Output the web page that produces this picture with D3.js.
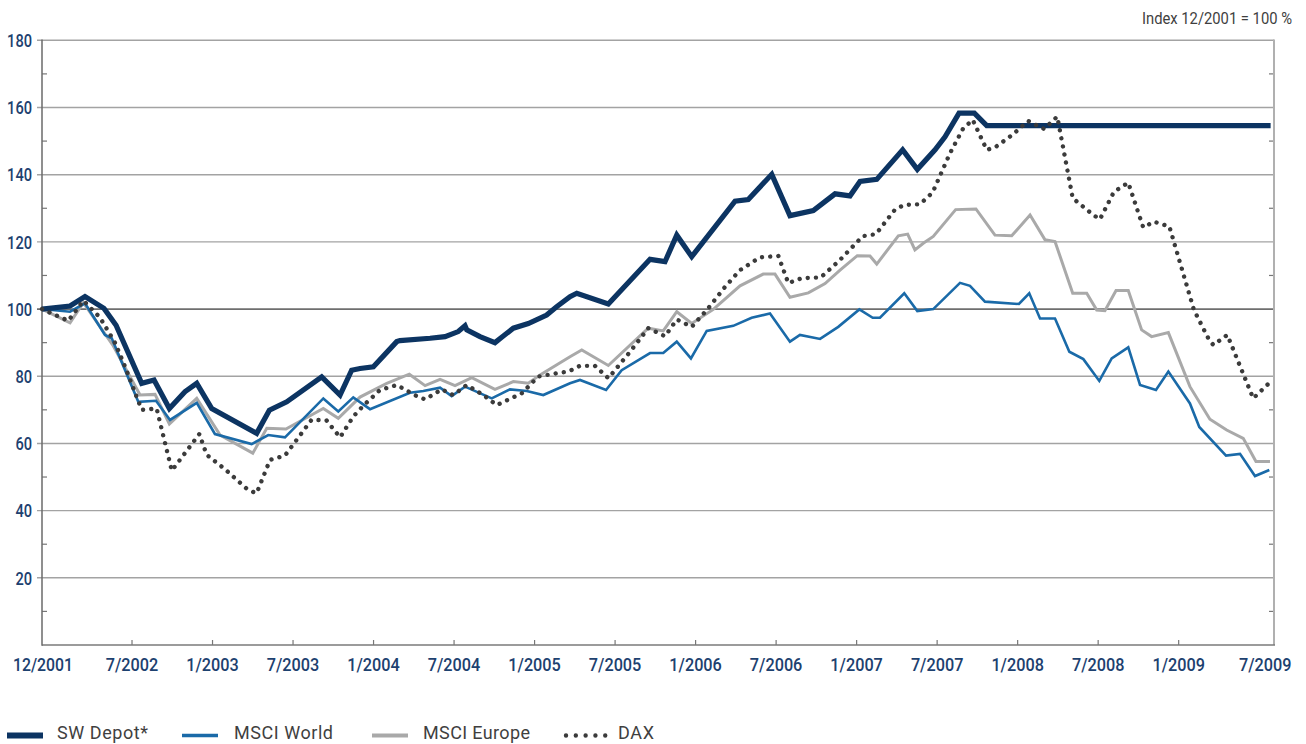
<!DOCTYPE html>
<html>
<head>
<meta charset="utf-8">
<script src="https://cdn.jsdelivr.net/npm/d3@7"></script>
<style>
  html, body { margin: 0; padding: 0; background: #fff; }
  svg { display: block; }
</style>
</head>
<body>
<script>
// ---------------- DATA (x = decimal year, y = index value) ----------------
const seriesNames = ["SW Depot*", "MSCI World", "MSCI Europe", "DAX"];

const swDepot = [
  [2001.941,100],[2002.115,100.9],[2002.208,103.7],[2002.326,100.2],[2002.401,95.2],
  [2002.560,77.9],[2002.637,78.9],[2002.732,70.4],[2002.829,75.4],[2002.902,77.9],
  [2002.995,70.4],[2003.274,63.0],[2003.353,69.9],[2003.461,72.4],[2003.678,79.8],
  [2003.792,74.4],[2003.864,81.8],[2003.916,82.3],[2003.999,82.8],[2004.144,90.3],
  [2004.164,90.6],[2004.351,91.3],[2004.444,91.8],[2004.526,93.3],[2004.568,95.0],
  [2004.579,93.8],[2004.661,91.8],[2004.754,90.0],[2004.796,91.6],[2004.868,94.3],
  [2004.961,95.7],[2005.075,98.2],[2005.137,100.7],[2005.220,103.7],[2005.262,104.7],
  [2005.458,101.5],[2005.717,114.8],[2005.810,114.1],[2005.883,122.0],[2005.976,115.6],
  [2006.245,132.1],[2006.327,132.6],[2006.473,140.1],[2006.586,127.8],[2006.731,129.3],
  [2006.866,134.3],[2006.959,133.7],[2007.021,138.0],[2007.125,138.6],[2007.286,147.4],
  [2007.377,141.6],[2007.487,147.4],[2007.549,151.3],[2007.636,158.3],[2007.731,158.3],
  [2007.808,154.6],[2009.571,154.6]
];

const msciWorld = [
  [2001.941,100],[2002.115,99.2],[2002.208,101.7],[2002.332,92.3],[2002.374,91.3],
  [2002.539,72.4],[2002.649,72.7],[2002.736,67.0],[2002.902,72.1],[2003.015,62.8],
  [2003.243,59.8],[2003.346,62.5],[2003.450,61.8],[2003.688,73.4],[2003.781,69.5],
  [2003.874,73.7],[2003.978,70.2],[2004.226,75.1],[2004.309,75.6],[2004.413,76.6],
  [2004.485,74.1],[2004.568,76.9],[2004.734,73.4],[2004.847,76.1],[2004.951,75.6],
  [2005.054,74.4],[2005.220,77.9],[2005.282,78.9],[2005.444,75.9],[2005.541,81.8],
  [2005.717,86.9],[2005.799,86.9],[2005.883,90.3],[2005.971,85.3],[2006.069,93.5],
  [2006.234,95.0],[2006.348,97.4],[2006.462,98.7],[2006.586,90.3],[2006.648,92.3],
  [2006.773,91.1],[2006.886,94.7],[2007.017,99.9],[2007.100,97.4],[2007.145,97.4],
  [2007.296,104.7],[2007.377,99.4],[2007.476,100.0],[2007.642,107.8],[2007.704,106.9],
  [2007.797,102.2],[2008.008,101.5],[2008.072,104.7],[2008.139,97.2],[2008.232,97.2],
  [2008.321,87.3],[2008.408,85.1],[2008.507,78.6],[2008.584,85.3],[2008.687,88.6],
  [2008.760,77.4],[2008.859,75.9],[2008.936,81.4],[2009.070,71.9],[2009.128,64.9],
  [2009.294,56.4],[2009.381,56.9],[2009.474,50.3],[2009.563,52.1]
];

const msciEurope = [
  [2001.941,100],[2002.115,95.9],[2002.198,101.9],[2002.384,89.0],[2002.550,74.4],
  [2002.643,74.6],[2002.732,65.8],[2002.902,73.4],[2003.047,62.5],[2003.250,57.1],
  [2003.337,64.5],[2003.456,64.3],[2003.688,70.4],[2003.781,67.5],[2003.916,73.8],
  [2004.082,77.9],[2004.222,80.6],[2004.320,77.2],[2004.413,79.1],[2004.506,77.2],
  [2004.610,79.6],[2004.754,76.1],[2004.868,78.4],[2004.961,77.9],[2005.034,80.4],
  [2005.220,85.8],[2005.293,87.8],[2005.458,83.2],[2005.706,94.3],[2005.799,93.5],
  [2005.883,99.2],[2005.976,95.7],[2006.110,99.9],[2006.276,106.9],[2006.420,110.4],
  [2006.493,110.4],[2006.586,103.5],[2006.700,104.8],[2006.804,107.6],[2006.897,111.6],
  [2007.004,115.9],[2007.083,115.8],[2007.125,113.4],[2007.259,121.8],[2007.317,122.3],
  [2007.362,117.6],[2007.414,119.6],[2007.476,121.6],[2007.615,129.6],[2007.741,129.8],
  [2007.859,122.0],[2007.963,121.8],[2008.077,128.0],[2008.170,120.6],[2008.232,120.1],
  [2008.342,104.7],[2008.429,104.7],[2008.491,99.7],[2008.542,99.5],[2008.611,105.5],
  [2008.687,105.5],[2008.770,93.8],[2008.832,91.8],[2008.936,93.0],[2009.070,76.9],
  [2009.194,67.2],[2009.298,64.0],[2009.401,61.5],[2009.480,54.6],[2009.567,54.6]
];

const dax = [
  [2001.941,100],[2002.104,96.5],[2002.198,102.5],[2002.301,97.5],[2002.394,90.0],
  [2002.457,82.8],[2002.560,70.0],[2002.653,70.4],[2002.747,51.9],[2002.918,62.8],
  [2002.964,56.6],[2003.078,52.3],[2003.222,46.1],[2003.274,45.2],[2003.357,55.1],
  [2003.450,56.4],[2003.616,67.1],[2003.709,66.8],[2003.792,61.8],[2003.874,68.0],
  [2003.936,71.2],[2004.040,75.9],[2004.144,77.4],[2004.268,74.1],[2004.320,73.1],
  [2004.423,76.1],[2004.495,74.4],[2004.579,77.4],[2004.682,74.4],[2004.765,71.4],
  [2004.920,74.9],[2005.023,79.9],[2005.137,80.9],[2005.209,81.4],[2005.282,83.1],
  [2005.375,83.1],[2005.458,79.4],[2005.593,87.3],[2005.706,94.3],[2005.810,91.9],
  [2005.883,96.9],[2005.976,94.7],[2006.069,99.7],[2006.183,106.6],[2006.276,111.6],
  [2006.400,115.4],[2006.514,115.8],[2006.576,107.7],[2006.659,109.2],[2006.777,109.4],
  [2006.892,114.4],[2007.038,121.7],[2007.120,122.3],[2007.238,129.6],[2007.296,131.0],
  [2007.394,131.2],[2007.472,134.7],[2007.580,146.4],[2007.662,153.8],[2007.721,156.3],
  [2007.808,147.4],[2007.859,148.1],[2007.963,151.7],[2008.066,156.0],[2008.114,154.8],
  [2008.165,153.6],[2008.246,157.3],[2008.342,133.0],[2008.470,128.0],[2008.511,126.7],
  [2008.598,134.9],[2008.687,137.6],[2008.780,124.3],[2008.847,126.0],[2008.942,124.6],
  [2009.095,99.7],[2009.184,91.3],[2009.215,89.3],[2009.302,92.3],[2009.463,73.4],
  [2009.571,78.4]
];

const xTickYears  = [2002.5,2003,2003.5,2004,2004.5,2005,2005.5,2006,2006.5,2007,2007.5,2008,2008.5,2009];
const xTickLabels = ["7/2002","1/2003","7/2003","1/2004","7/2004","1/2005","7/2005","1/2006",
                     "7/2006","1/2007","7/2007","1/2008","7/2008","1/2009"];
const xStartLabel = "12/2001";
const xEndLabel   = "7/2009";
const xDomain     = [2001.941, 2009.592];
const yMajorTicks = [20,40,60,80,100,120,140,160,180];
const yMinorTicks = [10,30,50,70,90,110,130,150,170];
const noteText    = "Index 12/2001 = 100 %";

// ---------------- LAYOUT ----------------
const W = 1306, H = 744;
const L = 42, R = 1274, T = 40.3, B = 645;
const FONT = 'Roboto,"Noto Sans","Liberation Sans",sans-serif';
const C_NAVY = "#0c3462", C_BLUE = "#1a6aa8", C_GREY = "#a9a9a9", C_DAX = "#3b3b3b";
const C_LABEL = "#1d416f", C_TEXT = "#3f3f3f";

const svg = d3.select("body").append("svg").attr("width", W).attr("height", H);

const x = d3.scaleLinear().domain(xDomain).range([L, R]);
const y = d3.scaleLinear().domain([0, 180]).range([B, T]);

// grid lines
svg.append("g").selectAll("line").data(yMajorTicks).join("line")
  .attr("x1", L - 5).attr("x2", R)
  .attr("y1", d => y(d)).attr("y2", d => y(d))
  .attr("stroke", d => d === 100 ? "#6e6e6e" : "#a3a3a3")
  .attr("stroke-width", d => d === 100 ? 1.8 : 1.4);

// minor ticks left & right
const minor = svg.append("g");
minor.selectAll("line.l").data(yMinorTicks).join("line").attr("class","l")
  .attr("x1", L).attr("x2", L + 5).attr("y1", d => y(d)).attr("y2", d => y(d))
  .attr("stroke", "#777").attr("stroke-width", 1.2);
minor.selectAll("line.r").data(yMinorTicks).join("line").attr("class","r")
  .attr("x1", R - 5).attr("x2", R).attr("y1", d => y(d)).attr("y2", d => y(d))
  .attr("stroke", "#777").attr("stroke-width", 1.2);

// bottom ticks
svg.append("g").selectAll("line").data(xTickYears).join("line")
  .attr("x1", d => x(d)).attr("x2", d => x(d)).attr("y1", B).attr("y2", B - 5)
  .attr("stroke", "#777").attr("stroke-width", 1.2);

// axes / frame
svg.append("line").attr("x1", R).attr("x2", R).attr("y1", T - 0.7).attr("y2", B)
  .attr("stroke", "#b0b0b0").attr("stroke-width", 2);
svg.append("line").attr("x1", L).attr("x2", R + 1).attr("y1", B).attr("y2", B)
  .attr("stroke", "#7a7a7a").attr("stroke-width", 1.5);
svg.append("line").attr("x1", L).attr("x2", L).attr("y1", T - 0.7).attr("y2", B + 0.7)
  .attr("stroke", "#6a6a6a").attr("stroke-width", 1.5);

// y labels (condensed look via textLength)
svg.append("g").selectAll("text").data(yMajorTicks).join("text")
  .attr("x", 32).attr("y", d => y(d) + 6.8)
  .attr("text-anchor", "end")
  .attr("font-family", FONT).attr("font-size", 19).attr("font-weight", 500)
  .attr("textLength", d => String(d).length * 8.3).attr("lengthAdjust", "spacingAndGlyphs")
  .attr("fill", C_LABEL).text(d => d);

// x labels
const xl = svg.append("g").attr("font-family", FONT).attr("font-size", 19)
  .attr("font-weight", 500).attr("fill", C_LABEL);
function xLabel(sel) {
  sel.attr("y", 670.8).attr("text-anchor", "middle")
     .attr("textLength", t => 7.5 * (t.length + 1)).attr("lengthAdjust", "spacingAndGlyphs")
     .text(t => t);
}
xl.selectAll("text.t").data(xTickLabels).join("text").attr("class", "t")
  .attr("x", (d, i) => x(xTickYears[i])).call(xLabel);
xl.append("text").datum(xStartLabel).attr("x", x(xDomain[0]) + 1).call(xLabel);
xl.append("text").datum(xEndLabel).attr("x", x(2009.5) + 6).call(xLabel);

// note
svg.append("text").attr("x", 1142).attr("y", 23.5).attr("text-anchor", "start")
  .attr("font-family", FONT).attr("font-size", 16).attr("fill", C_TEXT)
  .attr("textLength", 150).attr("lengthAdjust", "spacingAndGlyphs").text(noteText);

// lines
const line = d3.line().x(d => x(d[0])).y(d => y(d[1]));
const plot = svg.append("g");
plot.append("path").datum(msciEurope).attr("d", line)
  .attr("fill", "none").attr("stroke", C_GREY).attr("stroke-width", 3);
plot.append("path").datum(msciWorld).attr("d", line)
  .attr("fill", "none").attr("stroke", C_BLUE).attr("stroke-width", 2.6);
plot.append("path").datum(swDepot).attr("d", line)
  .attr("fill", "none").attr("stroke", C_NAVY).attr("stroke-width", 5.2);
plot.append("path").datum(dax).attr("d", line)
  .attr("fill", "none").attr("stroke", C_DAX).attr("stroke-width", 4.4)
  .attr("stroke-linecap", "round").attr("stroke-dasharray", "0.01 8.2");

// legend
const lg = svg.append("g");
const legendItems = [
  {name: seriesNames[0], x0: 7,   x1: 43,  tx: 57,  tw: 91,  color: C_NAVY, w: 6},
  {name: seriesNames[1], x0: 182, x1: 218, tx: 234, tw: 99,  color: C_BLUE, w: 3.5},
  {name: seriesNames[2], x0: 372, x1: 408, tx: 423, tw: 107, color: C_GREY, w: 4},
  {name: seriesNames[3], x0: 566, x1: 606, tx: 618, tw: 36,  color: C_DAX, w: 4.4, dots: true}
];
legendItems.forEach(it => {
  const ln = lg.append("line").attr("x1", it.x0).attr("x2", it.x1)
    .attr("y1", 735.5).attr("y2", 735.5)
    .attr("stroke", it.color).attr("stroke-width", it.w);
  if (it.dots) ln.attr("stroke-linecap", "round").attr("stroke-dasharray", "0.01 9.8");
  lg.append("text").attr("x", it.tx).attr("y", 739)
    .attr("font-family", FONT).attr("font-size", 18).attr("fill", C_TEXT)
    .attr("textLength", it.tw).attr("lengthAdjust", "spacing").text(it.name);
});
</script>
</body>
</html>
